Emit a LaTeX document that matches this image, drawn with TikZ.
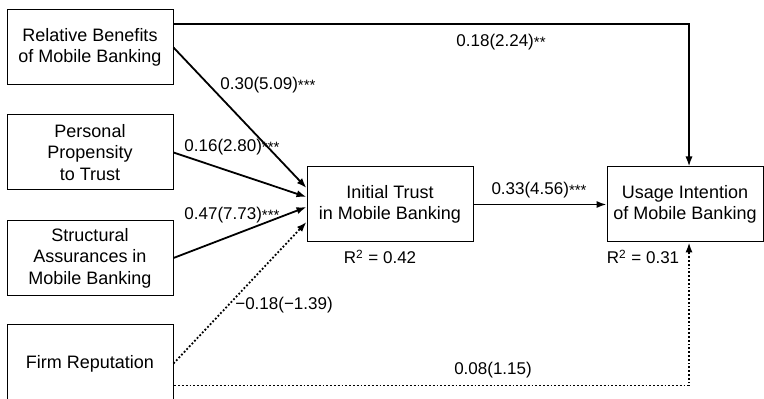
\documentclass[tikz,border=0pt]{standalone}
\usepackage{fontspec}
\setmainfont{Liberation Sans}
\usetikzlibrary{arrows.meta}
\newcommand\sigstar[1]{{\fontsize{7.5}{7}\selectfont\raisebox{-0.6pt}{#1}}}

\begin{document}
\begin{tikzpicture}[x=0.5pt, y=-0.5pt, font=\fontsize{9}{10.8}\selectfont,
  box/.style={draw, line width=0.5pt, minimum width=83pt, minimum height=37.5pt, align=center, inner sep=1pt},
  arr/.style={-{Latex[length=5pt,width=3.6pt]}, line width=0.9pt},
  dotarr/.style={arr, densely dotted},
  lbl/.style={font=\fontsize{8.5}{10}\selectfont, inner sep=0pt}]
\useasboundingbox (0,0) rectangle (764,399);
\node[box] (rb) at (90,47.5) {Relative Benefits\\of Mobile Banking};
\node[box] (ppt) at (90,152.5) {Personal\\Propensity\\to Trust};
\node[box] (sa) at (90,258) {Structural\\Assurances in\\Mobile Banking};
\node[box, minimum height=38.5pt] (fr) at (90,363.5) {Firm Reputation};
\node[box] (it) at (390,204.5) {Initial Trust\\in Mobile Banking};
\node[box, minimum width=78pt] (ui) at (685,204.5) {Usage Intention\\of Mobile Banking};
% where the paths meet the trust box
\coordinate (it1) at ([yshift=8.25pt]it.west);
\coordinate (it2) at ([yshift=3.75pt]it.west);
\coordinate (it3) at ([yshift=-1.25pt]it.west);
\coordinate (it4) at ([yshift=-8.75pt]it.west);
\foreach \u/\v in {rb/it1, ppt/it2, sa/it3, it/ui} \draw[arr] (\u.east) -- (\v);
\draw[dotarr] (fr.east) -- (it4);
\draw[arr] ([yshift=11.75pt]rb.east) -| ([xshift=2pt]ui.north);
\draw[dotarr] (fr.east) -- ++(0,22) -| ([xshift=2pt]ui.south);
% path coefficients
\node[lbl] (c1) at (501,42) {0.18(2.24)\sigstar{**}};
\node[lbl] (c2) at (268,85) {0.30(5.09)\sigstar{***}};
\node[lbl] (c3) at (232,147) {0.16(2.80)\sigstar{***}};
\node[lbl] (c4) at (232,215) {0.47(7.73)\sigstar{***}};
\node[lbl] (c5) at (284,305) {−0.18(−1.39)};
\node[lbl] (c6) at (539,190) {0.33(4.56)\sigstar{***}};
\node[lbl] (c7) at (493,370) {0.08(1.15)};
\node[lbl] (r1) at (380,257) {R\textsuperscript{2} = 0.42};
\node[lbl] (r2) at (643,257) {R\textsuperscript{2} = 0.31};
\end{tikzpicture}
\end{document}
